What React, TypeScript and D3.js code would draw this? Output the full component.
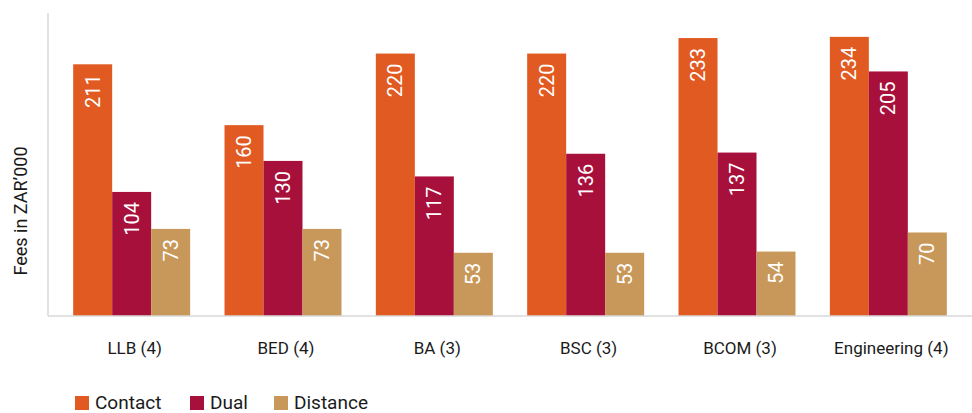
import React from "react";
import * as d3 from "d3";

const categories = ["LLB (4)", "BED (4)", "BA (3)", "BSC (3)", "BCOM (3)", "Engineering (4)"];
const seriesNames = ["Contact", "Dual", "Distance"];
const contactFees = [211, 160, 220, 220, 233, 234];
const dualFees = [104, 130, 117, 136, 137, 205];
const distanceFees = [73, 73, 53, 53, 54, 70];
const seriesColors = ["#E05A22", "#A8103C", "#C8985A"];
const yTitle = "Fees in ZAR\u2019000";

const W = 972;
const H = 413;
const FONT = "Roboto, 'Noto Sans', sans-serif";

export default function App() {
  const values = [contactFees, dualFees, distanceFees];
  const baseY = 316;

  const x0 = d3
    .scaleBand<string>()
    .domain(categories)
    .range([56, 964])
    .paddingInner(0.227)
    .paddingOuter(0.1135);
  const x1 = d3.scaleBand<string>().domain(seriesNames).range([0, x0.bandwidth()]);
  const y = d3.scaleLinear().domain([0, 254]).range([baseY, 13]);

  return (
    <svg
      width={W}
      height={H}
      style={{ position: "absolute", left: 0, top: 0, background: "#fff" }}
      fontFamily={FONT}
    >
      {/* axes */}
      <line x1={48} x2={48} y1={13} y2={baseY} stroke="#d9d9d9" strokeWidth={1.5} />

      {/* bars with rotated value labels */}
      {categories.map((cat, ci) => (
        <g key={cat} transform={`translate(${x0(cat)},0)`}>
          {seriesNames.map((s, si) => {
            const v = values[si][ci];
            const bx = x1(s)!;
            const bw = x1.bandwidth();
            const top = y(v);
            const cx = bx + bw / 2;
            const ty = top + 10;
            return (
              <g key={s}>
                <rect x={bx} y={top} width={bw} height={baseY - top} fill={seriesColors[si]} />
                <text
                  transform={`translate(${cx},${ty}) rotate(-90)`}
                  textAnchor="end"
                  dominantBaseline="central"
                  fill="#fff"
                  fontSize={20}
                >
                  {v}
                </text>
              </g>
            );
          })}
        </g>
      ))}

      <line x1={48} x2={W} y1={baseY} y2={baseY} stroke="#d9d9d9" strokeWidth={1.5} />

      {/* category labels */}
      {categories.map((cat) => (
        <text
          key={cat}
          x={x0(cat)! + x0.bandwidth() / 2 + 3}
          y={354}
          textAnchor="middle"
          fontSize={17}
          fill="#1a1a1a"
        >
          {cat}
        </text>
      ))}

      {/* y-axis title */}
      <text
        transform={`translate(27,211) rotate(-90)`}
        textAnchor="middle"
        fontSize={18}
        fill="#1a1a1a"
      >
        {yTitle}
      </text>

      {/* legend */}
      {seriesNames.map((s, i) => {
        const lx = [75, 190, 274][i];
        return (
          <g key={s} transform={`translate(${lx},396)`}>
            <rect width={14} height={14} fill={seriesColors[i]} />
            <text x={20} y={12.5} fontSize={19} fill="#1a1a1a">
              {s}
            </text>
          </g>
        );
      })}
    </svg>
  );
}
